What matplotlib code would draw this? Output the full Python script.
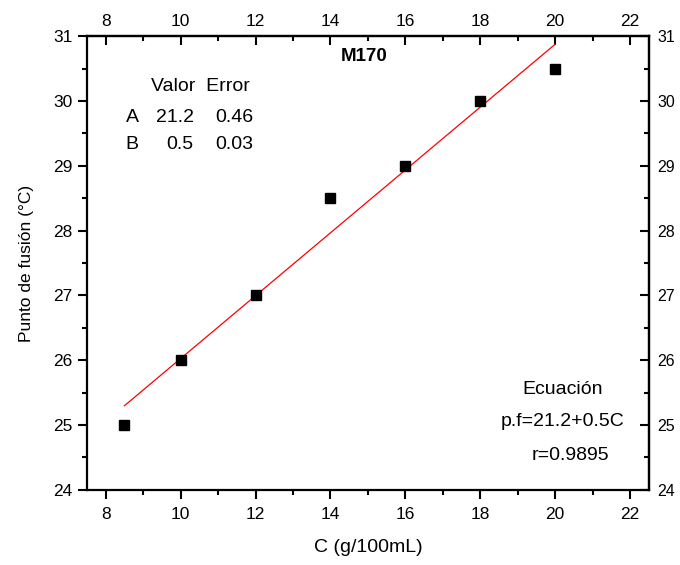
import numpy as np
import matplotlib
matplotlib.use("Agg")
import matplotlib.pyplot as plt
from matplotlib.ticker import MultipleLocator

plt.rcParams['font.family'] = ['Liberation Sans', 'DejaVu Sans']

# data
conc = [8.5, 10, 12, 14, 16, 18, 20]
temp = [25.0, 26.0, 27.0, 28.5, 29.0, 30.0, 30.5]

# linear fit
slope, intercept = np.polyfit(conc, temp, 1)
xfit = np.array([conc[0], conc[-1]])
yfit = intercept + slope * xfit

fig = plt.figure(figsize=(6.8, 5.65), dpi=100)
ax = fig.add_axes([0.128, 0.133, 0.826, 0.803])

ax.plot(conc, temp, 's', color='black', markersize=7.5, zorder=3)
ax.plot(xfit, yfit, '-', color='red', linewidth=0.9)

ax.set_xlim(7.5, 22.5)
ax.set_ylim(24, 31)
ax.xaxis.set_major_locator(MultipleLocator(2))
ax.xaxis.set_minor_locator(MultipleLocator(1))
ax.yaxis.set_major_locator(MultipleLocator(1))
ax.yaxis.set_minor_locator(MultipleLocator(0.5))

for s in ax.spines.values():
    s.set_linewidth(1.6)

# bottom/left: outward ticks
ax.tick_params(which='both', direction='out', width=1.5, labelsize=12.5,
               top=False, right=False, pad=4)
ax.tick_params(which='major', length=6.5)
ax.tick_params(which='minor', length=3.5)
ax.tick_params(axis='x', which='major', pad=6)

# top/right: inward ticks
top = ax.secondary_xaxis('top')
top.xaxis.set_major_locator(MultipleLocator(2))
top.xaxis.set_minor_locator(MultipleLocator(1))
top.tick_params(which='both', direction='in', width=1.5, labelsize=12.5, pad=5)
top.tick_params(which='major', length=6.5)
top.tick_params(which='minor', length=3.5)
top.spines['top'].set_linewidth(1.6)

right = ax.secondary_yaxis('right')
right.yaxis.set_major_locator(MultipleLocator(1))
right.yaxis.set_minor_locator(MultipleLocator(0.5))
right.tick_params(which='both', direction='in', width=1.5, labelsize=11.5, pad=6)
right.tick_params(which='major', length=6.5)
right.tick_params(which='minor', length=3.5)
right.spines['right'].set_linewidth(1.6)

ax.set_xlabel("C (g/100mL)", fontsize=14, labelpad=12)
ax.set_ylabel("Punto de fusión (°C)", fontsize=12.5, labelpad=14)

ax.text(14.9, 30.68, "M170", fontsize=13.5, fontweight='bold', ha='center', va='center')

# parameter table
fs = 14
ax.text(9.2, 30.22, "Valor  Error", fontsize=fs, ha='left', va='center')
ax.text(8.7, 29.75, "A", fontsize=fs, ha='center', va='center')
ax.text(8.7, 29.33, "B", fontsize=fs, ha='center', va='center')
ax.text(10.35, 29.75, "21.2", fontsize=fs, ha='right', va='center')
ax.text(10.35, 29.33, "0.5", fontsize=fs, ha='right', va='center')
ax.text(11.95, 29.75, "0.46", fontsize=fs, ha='right', va='center')
ax.text(11.95, 29.33, "0.03", fontsize=fs, ha='right', va='center')

ax.text(20.2, 25.55, "Ecuación", fontsize=fs, ha='center', va='center')
ax.text(20.2, 25.05, "p.f=21.2+0.5C", fontsize=fs, ha='center', va='center')
ax.text(20.4, 24.53, "r=0.9895", fontsize=fs, ha='center', va='center')

fig.savefig("out.png", dpi=100)
